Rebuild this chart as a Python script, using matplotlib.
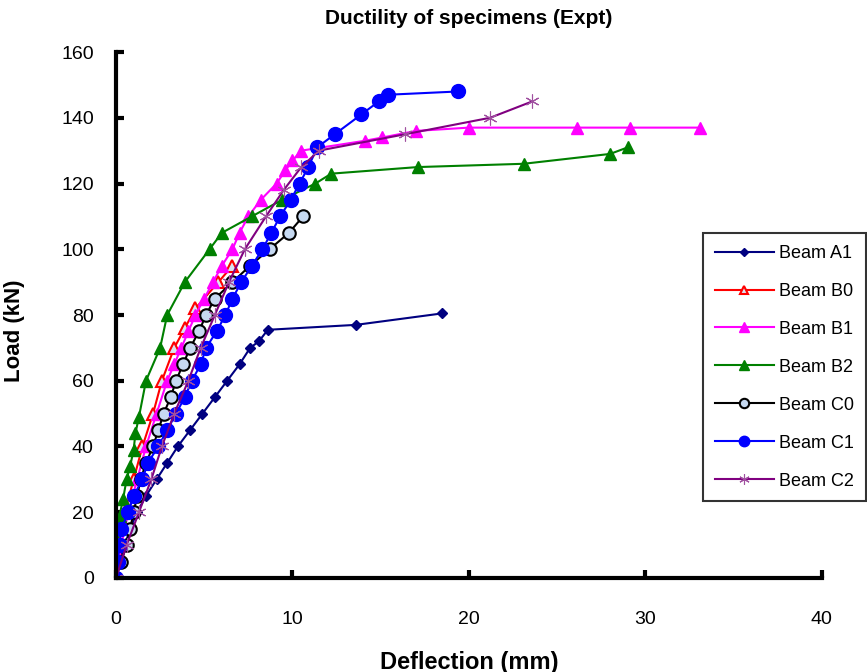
import matplotlib.pyplot as plt

plt.rcParams['font.family'] = ['Liberation Sans', 'DejaVu Sans']

# Beam A1
a1_x = [0, 0.2, 0.5, 0.8, 1.2, 1.7, 2.3, 2.9, 3.5, 4.2, 4.9, 5.6, 6.3, 7.0, 7.6, 8.1, 8.6, 13.6, 18.5]
a1_y = [0, 5, 10, 15, 20, 25, 30, 35, 40, 45, 50, 55, 60, 65, 70, 72, 75.5, 77, 80.5]

# Beam B0
b0_x = [0, 0, 0.5, 1.0, 1.5, 2.1, 2.6, 3.3, 3.9, 4.5, 5.8, 6.6]
b0_y = [0, 8, 20, 30, 40, 50, 60, 70, 76, 82, 90, 95]

# Beam B1
b1_x = [0, 0.3, 0.7, 1.2, 1.7, 2.3, 2.9, 3.3, 3.7, 4.1, 4.5, 5.0, 5.5, 6.0, 6.6, 7.0, 7.5,
        8.2, 9.1, 9.6, 10.0, 10.5, 14.1, 15.1, 17.0, 20.0, 26.1, 29.1, 33.1]
b1_y = [0, 10, 20, 30, 40, 50, 60, 65, 70, 75, 80, 85, 90, 95, 100, 105, 110,
        115, 120, 124, 127, 130, 133, 134, 136, 137, 137, 137, 137]

# Beam B2
b2_x = [0, 0.1, 0.2, 0.4, 0.6, 0.8, 1.0, 1.1, 1.3, 1.7, 2.5, 2.9, 3.9, 5.3, 6.0, 7.7,
        9.4, 11.3, 12.2, 17.1, 23.1, 28.0, 29.0]
b2_y = [0, 10, 19, 24, 30, 34, 39, 44, 49, 60, 70, 80, 90, 100, 105, 110,
        115, 120, 123, 125, 126, 129, 131]

# Beam C0
c0_x = [0, 0.3, 0.6, 0.8, 1.0, 1.2, 1.4, 1.7, 2.1, 2.4, 2.7, 3.1, 3.4, 3.8, 4.2, 4.7,
        5.1, 5.6, 6.6, 7.6, 8.7, 9.8, 10.6]
c0_y = [0, 5, 10, 15, 20, 25, 30, 35, 40, 45, 50, 55, 60, 65, 70, 75,
        80, 85, 90, 95, 100, 105, 110]

# Beam C1
c1_x = [0, 0.1, 0.2, 0.3, 0.7, 1.0, 1.5, 1.8, 2.4, 2.9, 3.4, 3.9, 4.3, 4.8, 5.1, 5.7,
        6.2, 6.6, 7.1, 7.7, 8.3, 8.8, 9.3, 9.9, 10.4, 10.9, 11.4, 12.4, 13.9, 14.9, 15.4, 19.4]
c1_y = [0, 5, 10, 15, 20, 25, 30, 35, 40, 45, 50, 55, 60, 65, 70, 75,
        80, 85, 90, 95, 100, 105, 110, 115, 120, 125, 131, 135, 141, 145, 147, 148]

# Beam C2
c2_x = [0, 0.6, 1.3, 2.0, 2.6, 3.3, 4.1, 4.8, 5.6, 6.4, 7.3, 8.5, 9.5, 10.5, 11.5, 16.4, 21.2, 23.6]
c2_y = [0, 10, 20, 30, 40, 50, 60, 70, 80, 90, 100, 110, 118, 125, 130, 135, 140, 145]

fig = plt.figure(figsize=(8.67, 6.72), dpi=100)
ax = fig.add_axes([0.1338, 0.1399, 0.8142, 0.7827])

lw = 1.5
ax.plot(a1_x, a1_y, color='#000080', lw=lw, marker='D', ms=5, label='Beam A1')
ax.plot(b0_x, b0_y, color='#FF0000', lw=lw, marker='^', ms=8, mfc='#D9E4F2',
        mec='#FF0000', mew=1.5, label='Beam B0')
ax.plot(b1_x, b1_y, color='#FF00FF', lw=lw, marker='^', ms=9, label='Beam B1')
ax.plot(b2_x, b2_y, color='#008000', lw=lw, marker='^', ms=9, label='Beam B2')
ax.plot(c0_x, c0_y, color='black', lw=lw, marker='o', ms=9, mfc='#C6D9F1',
        mec='black', mew=1.5, label='Beam C0')
ax.plot(c1_x, c1_y, color='#0000FF', lw=lw, marker='o', ms=10, label='Beam C1')
ax.plot(c2_x, c2_y, color='#800080', lw=lw, marker=(6, 2, 0), ms=10, mew=0.8,
        mec='#A050A0', label='Beam C2')

ax.set_xlim(0, 40)
ax.set_ylim(0, 160)
ax.set_xticks(range(0, 41, 10))
ax.set_yticks(range(0, 161, 20))
for s in ['top', 'right']:
    ax.spines[s].set_visible(False)
for s in ['left', 'bottom']:
    ax.spines[s].set_linewidth(3)
ax.tick_params(direction='in', length=6, width=3, labelsize=14)
ax.tick_params(axis='x', pad=24)
ax.tick_params(axis='y', pad=16)

ax.set_title('Ductility of specimens (Expt)', fontsize=15, fontweight='bold', pad=20)
ax.set_xlabel('Deflection (mm)', fontsize=17, fontweight='bold', labelpad=16)
ax.set_ylabel('Load (kN)', fontsize=16, fontweight='bold')
ax.yaxis.set_label_coords(-0.129, 0.471)

leg = fig.legend(loc='upper left', bbox_to_anchor=(0.811, 0.653), fontsize=13,
                 frameon=True, fancybox=False, edgecolor='black',
                 labelspacing=1.16, handlelength=3.25, handletextpad=0.3,
                 borderpad=0.65, borderaxespad=0)
leg.get_frame().set_linewidth(1.5)
for h in leg.legend_handles:
    h.set_markersize(h.get_markersize() * 0.75)

fig.savefig('out.png', dpi=100)
